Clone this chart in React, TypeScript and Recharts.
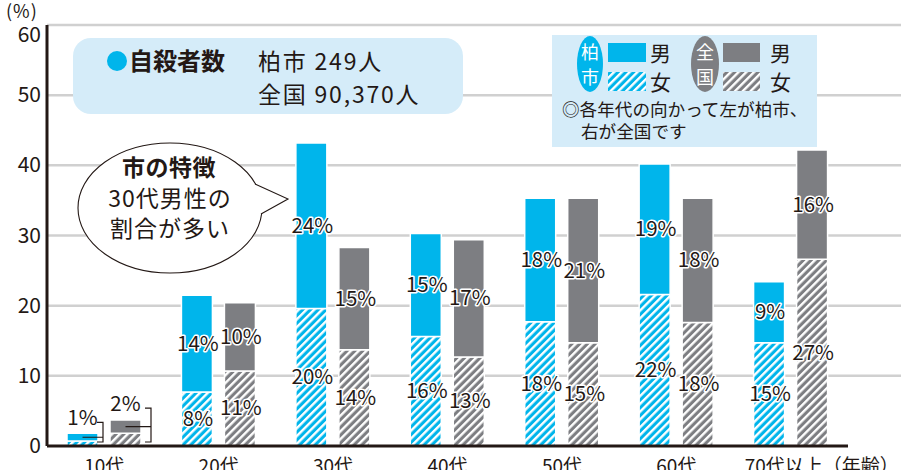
import React from "react";
import {
  BarChart,
  Bar,
  XAxis,
  YAxis,
  CartesianGrid,
  LabelList,
} from "recharts";

const ages = ["10代", "20代", "30代", "40代", "50代", "60代", "70代以上"];
const cityFemale = [0.7, 7.7, 19.6, 15.6, 17.7, 21.6, 14.7];
const cityMale = [1.1, 13.8, 23.6, 14.7, 17.6, 18.6, 8.7];
const nationFemale = [1.8, 10.7, 13.7, 12.7, 14.7, 17.6, 26.6];
const nationMale = [1.9, 9.7, 14.6, 16.7, 20.6, 17.7, 15.6];

const cityFemaleLabels = ["", "8%", "20%", "16%", "18%", "22%", "15%"];
const cityMaleLabels = ["", "14%", "24%", "15%", "18%", "19%", "9%"];
const nationFemaleLabels = ["", "11%", "14%", "13%", "15%", "18%", "27%"];
const nationMaleLabels = ["", "10%", "15%", "17%", "21%", "18%", "16%"];
// 10代 is too thin to label inside, shown with a bracket instead
const teenLabels = { city: "1%", nation: "2%" };

const yTicks = [0, 10, 20, 30, 40, 50, 60];

const data = ages.map((age, i) => ({
  age,
  cityFemale: cityFemale[i],
  cityMale: cityMale[i],
  nationFemale: nationFemale[i],
  nationMale: nationMale[i],
}));

const CYAN = "#00b5eb";
const GREY = "#7d7e82";
const INK = "#231815";
const FONT = "'Noto Sans CJK JP', 'Noto Sans', sans-serif";

const segmentLabel = (labels: string[]) => (props: any) => {
  const { x, y, width, height, index } = props;
  const text = labels[index];
  if (!text) return null;
  return (
    <text
      x={x + width / 2 + 1}
      y={y + height / 2 + 7}
      textAnchor="middle"
      fontSize={20.5}
      fontFamily={FONT}
      fill={INK}
      stroke="#fff"
      strokeWidth={3}
      strokeLinejoin="round"
      paintOrder="stroke"
    >
      {text}
    </text>
  );
};

// bracket for the 10代 bars, drawn from the female (bottom) segment
const teenBracket = (text: string, maleVals: number[], femaleVals: number[], reach: number, lift: number) => (props: any) => {
  const { x, y, width, height, index } = props;
  if (index !== 0) return null;
  const base = y + height;
  const pxPer = height / femaleVals[0];
  const top = y - maleVals[0] * pxPer;
  const mid = (top + y) / 2;
  const bx = x + width + reach;
  const t = top - lift;
  const b = base - 4;
  return (
    <g>
      <path
        d={`M${x + width / 2},${mid} H${bx} M${bx - 6},${t} H${bx} V${b} H${bx - 6}`}
        fill="none"
        stroke={INK}
        strokeWidth={1.2}
      />
      <text
        x={x + width / 2}
        y={t + 3}
        textAnchor="middle"
        fontSize={20.5}
        fontFamily={FONT}
        fill={INK}
      >
        {text}
      </text>
    </g>
  );
};

const XTick = (props: any) => {
  const { x, y, payload, index } = props;
  const last = index === ages.length - 1;
  return (
    <text
      x={last ? x - 46 : x}
      y={y + 19}
      textAnchor={last ? "start" : "middle"}
      fontSize={19}
      fontFamily={FONT}
      fill={INK}
    >
      {last ? `${payload.value}（年齢）` : payload.value}
    </text>
  );
};

const YTick = (props: any) => {
  const { x, y, payload } = props;
  return (
    <text
      x={x}
      y={y + 7 + (payload.value === 60 ? 10 : 0)}
      textAnchor="end"
      fontSize={21}
      fontFamily={FONT}
      fill={INK}
    >
      {payload.value}
    </text>
  );
};

const gridLine = (props: any) => {
  if (props.y1 > 440) return <g key={props.key} />;
  return (
    <line
      key={props.key}
      x1={props.x1}
      x2={901}
      y1={props.y1}
      y2={props.y2}
      stroke="#d0d0d0"
      strokeWidth={2.5}
    />
  );
};

function Overlay() {
  const t = { fontFamily: FONT, fill: INK };
  return (
    <svg
      width={901}
      height={470}
      style={{ position: "absolute", left: 0, top: 0, pointerEvents: "none" }}
    >
      <defs>
        <pattern id="lgCity" width="5.5" height="5.5" patternUnits="userSpaceOnUse" patternTransform="rotate(45)">
          <rect width="5.5" height="5.5" fill={CYAN} />
          <rect width="2.4" height="5.5" fill="#fff" />
        </pattern>
        <pattern id="lgNation" width="5.5" height="5.5" patternUnits="userSpaceOnUse" patternTransform="rotate(45)">
          <rect width="5.5" height="5.5" fill={GREY} />
          <rect width="2.4" height="5.5" fill="#fff" />
        </pattern>
      </defs>

      <text x={6} y={18} fontSize={18} letterSpacing={1} {...t}>(%)</text>

      {/* totals box */}
      <rect x={73} y={38} width={390} height={76} rx={18} fill="#d5ecf9" />
      <circle cx={117} cy={61} r={10} fill={CYAN} />
      <text x={129} y={70} fontSize={24} fontWeight={700} {...t}>自殺者数</text>
      <text x={258} y={70} fontSize={23} letterSpacing={1.8} {...t}>柏市 249人</text>
      <text x={258} y={103} fontSize={23} letterSpacing={1.8} {...t}>全国 90,370人</text>

      {/* speech bubble */}
      <ellipse cx={170} cy={208} rx={92} ry={65} fill="#fff" stroke={INK} strokeWidth={1.1} />
      <path d="M248,184 L255,184 L288,199 L261,214 L248,214 Z" fill="#fff" />
      <path d="M255,184 L288,199 L261,214" fill="none" stroke={INK} strokeWidth={1.1} />
      <text x={169} y={176} textAnchor="middle" fontSize={23} fontWeight={700} letterSpacing={0.5} {...t}>市の特徴</text>
      <text x={170} y={207} textAnchor="middle" fontSize={23} letterSpacing={1} {...t}>30代男性の</text>
      <text x={170} y={237} textAnchor="middle" fontSize={23} letterSpacing={1} {...t}>割合が多い</text>

      {/* legend */}
      <rect x={552} y={35} width={265} height={112} fill="#d5ecf9" />
      <ellipse cx={590} cy={64} rx={13} ry={28} fill={CYAN} />
      <text x={590} y={59} textAnchor="middle" fontSize={18} fontFamily={FONT} fill="#fff">柏</text>
      <text x={590} y={84} textAnchor="middle" fontSize={18} fontFamily={FONT} fill="#fff">市</text>
      <rect x={608} y={43} width={38} height={19} fill={CYAN} />
      <rect x={608} y={72} width={38} height={19} fill="url(#lgCity)" />
      <text x={650} y={61} fontSize={21} {...t}>男</text>
      <text x={650} y={90} fontSize={21} {...t}>女</text>
      <ellipse cx={705} cy={64} rx={14} ry={28} fill={GREY} />
      <text x={705} y={59} textAnchor="middle" fontSize={18} fontFamily={FONT} fill="#fff">全</text>
      <text x={705} y={84} textAnchor="middle" fontSize={18} fontFamily={FONT} fill="#fff">国</text>
      <rect x={723} y={43} width={37} height={19} fill={GREY} />
      <rect x={723} y={72} width={37} height={19} fill="url(#lgNation)" />
      <text x={770} y={61} fontSize={21} {...t}>男</text>
      <text x={770} y={90} fontSize={21} {...t}>女</text>
      <text x={562} y={116} fontSize={17.6} {...t}>◎各年代の向かって左が柏市、</text>
      <text x={581} y={138} fontSize={17.6} {...t}>右が全国です</text>
    </svg>
  );
}

export default function App() {
  return (
    <div style={{ position: "absolute", left: 0, top: 0, width: 901, height: 470, background: "#fff" }}>
      <BarChart
        width={901}
        height={470}
        data={data}
        margin={{ top: 25, right: 53, left: 0, bottom: 0 }}
        barSize={31}
        barGap={12}
      >
        <defs>
          <pattern id="hatchCity" width="5.5" height="5.5" patternUnits="userSpaceOnUse" patternTransform="rotate(45)">
            <rect width="5.5" height="5.5" fill={CYAN} />
            <rect width="2.4" height="5.5" fill="#fff" />
          </pattern>
          <pattern id="hatchNation" width="5.5" height="5.5" patternUnits="userSpaceOnUse" patternTransform="rotate(45)">
            <rect width="5.5" height="5.5" fill={GREY} />
            <rect width="2.4" height="5.5" fill="#fff" />
          </pattern>
        </defs>
        <CartesianGrid vertical={false} horizontal={gridLine} />
        <XAxis
          dataKey="age"
          height={24}
          tickLine={false}
          axisLine={{ stroke: INK, strokeWidth: 3 }}
          tick={<XTick />}
          interval={0}
        />
        <YAxis
          width={47}
          domain={[0, 60]}
          ticks={yTicks}
          tickLine={false}
          tickSize={0}
          tickMargin={6}
          axisLine={{ stroke: INK, strokeWidth: 3 }}
          tick={<YTick />}
        />
        <Bar dataKey="cityFemale" stackId="city" fill="url(#hatchCity)" stroke="#fff" strokeWidth={1.5} isAnimationActive={false}>
          <LabelList dataKey="cityFemale" content={segmentLabel(cityFemaleLabels)} />
          <LabelList dataKey="cityFemale" content={teenBracket(teenLabels.city, cityMale, cityFemale, 5, 11)} />
        </Bar>
        <Bar dataKey="cityMale" stackId="city" fill={CYAN} stroke="#fff" strokeWidth={1.5} isAnimationActive={false}>
          <LabelList dataKey="cityMale" content={segmentLabel(cityMaleLabels)} />
        </Bar>
        <Bar dataKey="nationFemale" stackId="nation" fill="url(#hatchNation)" stroke="#fff" strokeWidth={1.5} isAnimationActive={false}>
          <LabelList dataKey="nationFemale" content={segmentLabel(nationFemaleLabels)} />
          <LabelList dataKey="nationFemale" content={teenBracket(teenLabels.nation, nationMale, nationFemale, 10, 12)} />
        </Bar>
        <Bar dataKey="nationMale" stackId="nation" fill={GREY} stroke="#fff" strokeWidth={1.5} isAnimationActive={false}>
          <LabelList dataKey="nationMale" content={segmentLabel(nationMaleLabels)} />
        </Bar>
      </BarChart>
      <Overlay />
    </div>
  );
}
